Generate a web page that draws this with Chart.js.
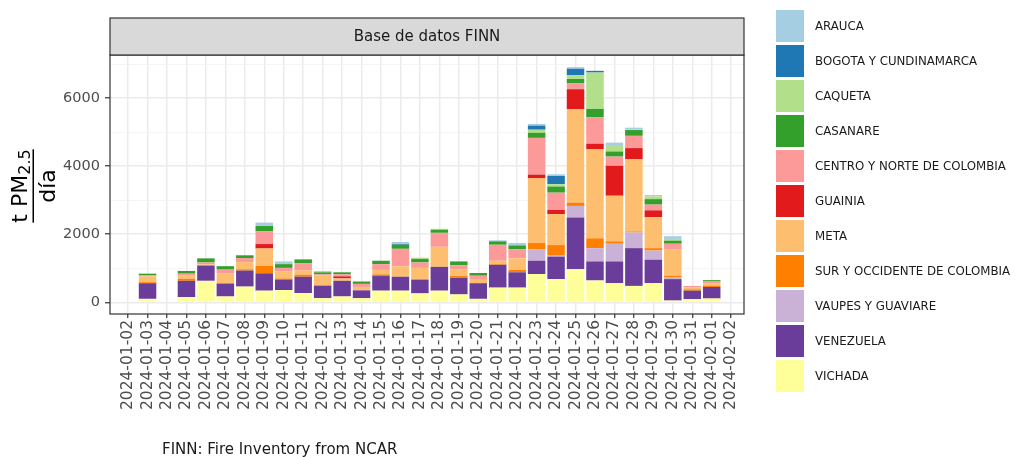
<!DOCTYPE html>
<html>
<head>
<meta charset="utf-8">
<script src="https://cdn.jsdelivr.net/npm/chart.js@4.4.1/dist/chart.umd.min.js"></script>
<style>
  body { margin: 0; background: #fff; font-family: "DejaVu Sans", sans-serif; }
  #wrap { position: relative; width: 1015px; height: 457px; }
  #legend { position: absolute; left: 776px; top: 10px; }
  .item { position: absolute; left: 0; height: 32px; display: flex; align-items: center; white-space: nowrap; }
  .box { width: 28px; height: 32px; margin-right: 11px; }
  .item span { font-size: 11.8px; color: #1a1a1a; }
</style>
</head>
<body>
<div id="wrap">
  <canvas id="chart"></canvas>
  <div id="legend"></div>
</div>
<script>
const dates = [
  '2024-01-02', '2024-01-03', '2024-01-04', '2024-01-05', '2024-01-06', '2024-01-07', '2024-01-08', '2024-01-09',
  '2024-01-10', '2024-01-11', '2024-01-12', '2024-01-13', '2024-01-14', '2024-01-15', '2024-01-16', '2024-01-17',
  '2024-01-18', '2024-01-19', '2024-01-20', '2024-01-21', '2024-01-22', '2024-01-23', '2024-01-24', '2024-01-25',
  '2024-01-26', '2024-01-27', '2024-01-28', '2024-01-29', '2024-01-30', '2024-01-31', '2024-02-01', '2024-02-02'
];

// t PM2.5 / dia por region
const arauca    = [0,0,0,0,0,0,0,70,80,0,0,0,0,0,60,0,0,0,0,30,70,50,50,50,0,70,50,40,80,0,0,0];
const bogota    = [0,0,0,0,0,0,0,0,0,0,0,0,0,0,20,0,0,0,0,0,0,120,240,190,50,0,0,0,0,0,0,0];
const caqueta   = [0,0,0,0,0,0,0,30,0,0,40,0,0,0,0,40,30,0,0,0,0,90,70,110,1070,190,20,80,50,0,0,0];
const casanare  = [0,40,0,80,120,100,80,150,110,110,60,60,70,100,120,100,90,110,80,100,110,150,180,120,240,150,170,160,90,0,40,0];
const centro    = [0,40,0,60,60,110,120,380,100,210,40,60,90,170,520,160,410,120,120,470,270,1080,510,180,780,270,360,170,160,40,50,0];
const guainia   = [0,0,0,0,0,0,0,130,0,0,0,60,0,0,0,0,0,0,0,0,0,110,120,590,160,880,320,200,0,0,0,0];
const meta      = [0,170,0,90,30,280,210,510,210,130,290,70,100,130,300,330,590,200,100,100,340,1900,910,2740,2620,1340,2130,910,780,60,70,0];
const sur       = [0,30,0,60,0,30,40,220,30,60,0,0,0,50,0,20,0,50,0,20,70,180,310,100,290,70,30,70,50,40,40,0];
const vaupes    = [0,0,0,0,0,0,0,0,0,0,0,0,0,0,0,0,0,0,0,0,0,340,30,340,390,520,460,270,50,0,0,0];
const venezuela = [0,460,0,480,450,370,470,510,310,480,370,460,230,430,410,400,700,490,460,670,450,390,660,1520,560,640,1110,690,630,250,340,0];
const vichada   = [0,100,0,150,630,170,460,340,360,270,120,170,120,340,340,260,340,230,100,430,430,830,680,970,640,560,480,560,50,90,110,0];

const regions = ['ARAUCA', 'BOGOTA Y CUNDINAMARCA', 'CAQUETA', 'CASANARE', 'CENTRO Y NORTE DE COLOMBIA', 'GUAINIA',
  'META', 'SUR Y OCCIDENTE DE COLOMBIA', 'VAUPES Y GUAVIARE', 'VENEZUELA', 'VICHADA'];
const regionValues = [arauca, bogota, caqueta, casanare, centro, guainia, meta, sur, vaupes, venezuela, vichada];
const colors = ['#a6cee3', '#1f78b4', '#b2df8a', '#33a02c', '#fb9a99', '#e31a1c', '#fdbf6f', '#ff7f00', '#cab2d6', '#6a3d9a', '#ffff99'];

const yTicks = [0, 1000, 2000, 3000, 4000, 5000, 6000, 7000];
const stripTitle = 'Base de datos FINN';
const caption = 'FINN: Fire Inventory from NCAR';

// leyenda html, mismo orden que la figura
const legendEl = document.getElementById('legend');
regions.forEach((name, i) => {
  const item = document.createElement('div');
  item.className = 'item';
  item.style.top = (i * 35) + 'px';
  item.innerHTML = `<div class="box" style="background:${colors[i]}"></div><span>${name}</span>`;
  legendEl.appendChild(item);
});

// Vichada abajo, Arauca arriba
const datasets = regions.map((name, i) => ({
  label: name,
  data: regionValues[i],
  backgroundColor: colors[i],
  borderWidth: 0,
  barPercentage: 0.9,
  categoryPercentage: 1
})).reverse();

const isMinor = v => v % 2000 !== 0;

const framePlugin = {
  id: 'frame',
  beforeDraw(chart) {
    const { ctx, chartArea: a } = chart;
    ctx.save();
    ctx.fillStyle = '#fff';
    ctx.fillRect(a.left, a.top, a.right - a.left, a.bottom - a.top);
    ctx.restore();
  },
  afterDraw(chart) {
    const { ctx, chartArea: a } = chart;
    ctx.save();
    ctx.strokeStyle = '#333';
    ctx.lineWidth = 1.2;
    ctx.strokeRect(a.left, a.top, a.right - a.left, a.bottom - a.top);

    // franja del titulo
    const stripTop = 18;
    ctx.fillStyle = '#d9d9d9';
    ctx.fillRect(a.left, stripTop, a.right - a.left, a.top - stripTop);
    ctx.strokeRect(a.left, stripTop, a.right - a.left, a.top - stripTop);
    ctx.fillStyle = '#1a1a1a';
    ctx.font = '15px "DejaVu Sans"';
    ctx.textAlign = 'center';
    ctx.textBaseline = 'middle';
    ctx.fillText(stripTitle, (a.left + a.right) / 2, (stripTop + a.top) / 2 + 1);

    // pie de figura
    ctx.textAlign = 'left';
    ctx.textBaseline = 'alphabetic';
    ctx.fillText(caption, 162, 454);

    // titulo eje y: t PM2.5 / dia
    ctx.translate(0, 186);
    ctx.rotate(-Math.PI / 2);
    ctx.fillStyle = '#000';
    ctx.font = '22px "DejaVu Sans"';
    const w1 = ctx.measureText('t PM').width;
    ctx.font = '16px "DejaVu Sans"';
    const w2 = ctx.measureText('2.5').width;
    const start = -(w1 + w2) / 2;
    ctx.font = '22px "DejaVu Sans"';
    ctx.fillText('t PM', start, 27);
    ctx.font = '16px "DejaVu Sans"';
    ctx.fillText('2.5', start + w1, 30);
    ctx.fillRect(start, 32.5, w1 + w2, 1.5);
    ctx.font = '22px "DejaVu Sans"';
    ctx.textAlign = 'center';
    ctx.fillText('día', 0, 55);
    ctx.restore();
  }
};

new Chart(document.getElementById('chart'), {
  type: 'bar',
  data: { labels: dates.map((d, i) => i), datasets },
  options: {
    responsive: true,
    maintainAspectRatio: false,
    animation: false,
    layout: { padding: { left: 0, top: 55, right: 271, bottom: 0 } },
    plugins: {
      legend: { display: false },
      tooltip: { enabled: false }
    },
    scales: {
      x: {
        type: 'linear',
        stacked: true,
        offset: false,
        min: -0.93,
        max: 31.66,
        afterBuildTicks: s => { s.ticks = dates.map((d, i) => ({ value: i })); },
        afterFit: s => { s.height = 143; },
        border: { display: false },
        grid: { color: '#ebebeb', lineWidth: 1.5, offset: false, tickLength: 4, tickColor: '#333', tickWidth: 1.2 },
        ticks: {
          autoSkip: false,
          minRotation: 90,
          maxRotation: 90,
          padding: 2,
          color: '#4d4d4d',
          font: { family: 'DejaVu Sans', size: 15.5 },
          callback: v => dates[v]
        }
      },
      y: {
        stacked: true,
        min: -345,
        max: 7265,
        afterBuildTicks: s => { s.ticks = yTicks.map(v => ({ value: v })); },
        afterFit: s => { s.width = 110; },
        border: { display: false },
        grid: {
          color: c => isMinor(c.tick.value) ? '#f3f3f3' : '#ebebeb',
          lineWidth: c => isMinor(c.tick.value) ? 0.8 : 1.5,
          tickLength: 5,
          tickColor: c => isMinor(c.tick.value) ? 'rgba(0,0,0,0)' : '#333',
          tickWidth: 1.2
        },
        ticks: {
          padding: 5,
          color: '#4d4d4d',
          font: { family: 'DejaVu Sans', size: 14.5 },
          callback: v => isMinor(v) ? '' : v
        }
      }
    }
  },
  plugins: [framePlugin]
});
</script>
</body>
</html>
